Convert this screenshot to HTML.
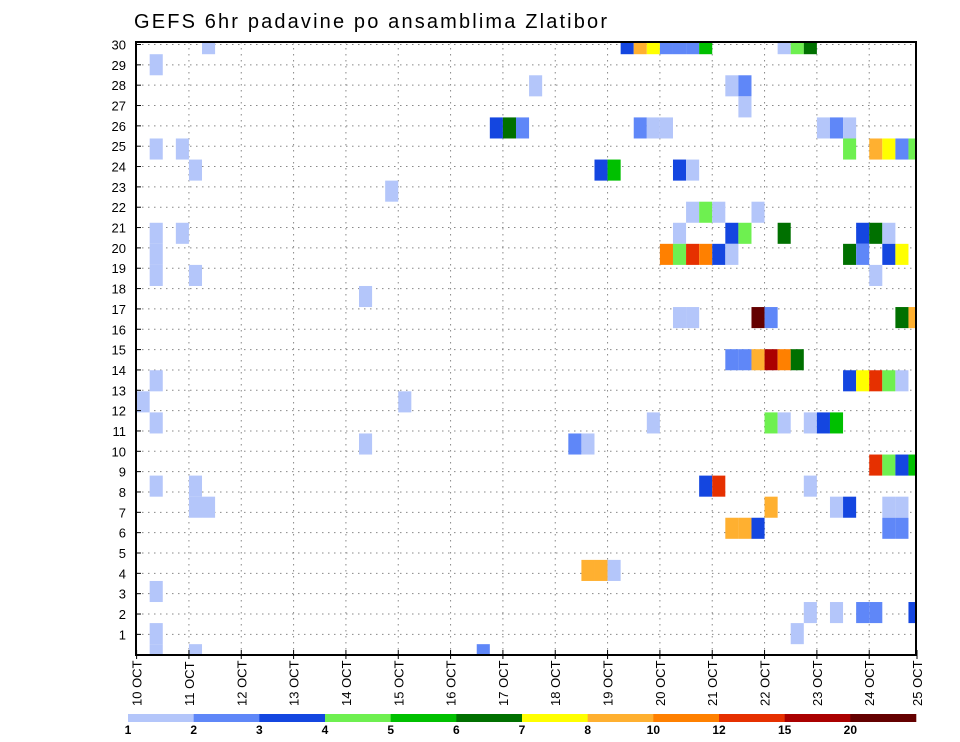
<!DOCTYPE html>
<html><head><meta charset="utf-8"><style>
html,body{margin:0;padding:0;background:#fff;}
svg{display:block;font-family:"Liberation Sans",sans-serif;}
</style></head><body>
<svg id="chart" width="960" height="742" viewBox="0 0 960 742" xmlns="http://www.w3.org/2000/svg">
<text x="134" y="28" font-size="20" textLength="473" fill="#000">GEFS 6hr padavine po ansamblima Zlatibor</text>
<g id="grid"></g>
<g id="cells"></g>
<rect x="136" y="42" width="780" height="613" fill="none" stroke="#000" stroke-width="2"/>
<g id="axes"></g>
<g id="legend"></g>
</svg>
<script>
const dayLabels = ["10 OCT","11 OCT","12 OCT","13 OCT","14 OCT","15 OCT","16 OCT","17 OCT","18 OCT","19 OCT","20 OCT","21 OCT","22 OCT","23 OCT","24 OCT","25 OCT"];
const yTickLabels = [1,2,3,4,5,6,7,8,9,10,11,12,13,14,15,16,17,18,19,20,21,22,23,24,25,26,27,28,29,30];
const levels = [1,2,3,4,5,6,7,8,10,12,15,20];
const levelColors = ["#b4c6fa","#5f87f8","#1446e0","#6ef050","#00c000","#007000","#ffff00","#ffb030","#ff8000","#e63000","#aa0000","#640000"];
const rowMember = [29,28,27,26,25,24,23,22,21,20,19,18,17,16,14,13,12,11,10,9,8,7,6,4,3,2,1,0];
const rowSteps = [
 [37,38,39,40,41,42,43,49,50,51,5],
 [1],
 [45,46,30],
 [46],
 [38,39,40,52,53,54,27,28,29],
 [54,56,57,58,59,1,3],
 [35,36,41,42,4],
 [19],
 [42,43,44,47],
 [41,45,46,49,55,56,57,1,3],
 [40,41,42,43,44,45,54,55,57,58,1],
 [56,1,4],
 [17],
 [41,42,47,48,58,59],
 [45,46,47,48,49,50],
 [54,55,56,57,58,1],
 [0,20],
 [39,48,49,51,52,53,1],
 [33,34,17],
 [56,57,58,59],
 [43,44,51,1,4],
 [48,53,54,57,58,4,5],
 [45,46,47,57,58],
 [34,35,36],
 [1],
 [51,53,55,56,59],
 [50,1],
 [1,4,26]
];
const rowValues = [
 [3.5,9,7.5,2.5,2.5,2.5,5.5,1.5,4.5,6.5,1.5],
 [1.5],
 [1.5,2.5,1.5],
 [1.5],
 [2.5,1.5,1.5,1.5,2.5,1.5,3.5,6.5,2.5],
 [4.5,9,7.5,2.5,4.5,1.5,1.5],
 [3.5,5.5,3.5,1.5,1.5],
 [1.5],
 [1.5,4.5,1.5,1.5],
 [1.5,3.5,4.5,6.5,3.5,6.5,1.5,1.5,1.5],
 [11,4.5,13.5,11,3.5,1.5,6.5,2.5,3.5,7.5,1.5],
 [1.5,1.5,1.5],
 [1.5],
 [1.5,1.5,25,2.5,6.5,9],
 [2.5,2.5,9,17.5,11,6.5],
 [3.5,7.5,13.5,4.5,1.5,1.5],
 [1.5,1.5],
 [1.5,4.5,1.5,1.5,3.5,5.5,1.5],
 [2.5,1.5,1.5],
 [13.5,4.5,3.5,5.5],
 [3.5,13.5,1.5,1.5,1.5],
 [9,1.5,3.5,1.5,1.5,1.5,1.5],
 [9,9,3.5,2.5,2.5],
 [9,9,1.5],
 [1.5],
 [1.5,1.5,2.5,2.5,3.5],
 [1.5,1.5],
 [1.5,1.5,2.5]
];

const NS="http://www.w3.org/2000/svg";
const PL=136, PR=916, PT=42, PB=655;
const X0=136.6, DAY_W=52.33, STEP_W=DAY_W/4;
const Y0=654.7, LABEL_H=20.34, CELL_H=21.07;
function xDay(d){return X0+d*DAY_W;}
function xStep(s){return X0+s*STEP_W;}
function yLabel(k){return Y0-k*LABEL_H;}
function yMember(m){return Y0-m*CELL_H;}
function colorFor(v){let c=null;for(let i=0;i<levels.length;i++){if(v>=levels[i])c=levelColors[i];}return c;}
function mk(tag,attrs,parent){const e=document.createElementNS(NS,tag);for(const k in attrs)e.setAttribute(k,attrs[k]);parent.appendChild(e);return e;}

const grid=document.getElementById('grid');
yTickLabels.forEach((lab,idx)=>{
  const y=yLabel(lab);
  if(y<=PT+1)return;
  const l=mk('line',{x1:PL,x2:PR,y1:y,y2:y,stroke:'#888','stroke-width':1,'stroke-dasharray':'1.5,4.5'},grid);
  
  
});
dayLabels.forEach((lab,d)=>{
  const x=xDay(d);
  if(d===0||x>=PR)return;
  const l=mk('line',{x1:x,x2:x,y1:PT,y2:PB,stroke:'#888','stroke-width':1,'stroke-dasharray':'1.5,4.5'},grid);
  
  
});

const cells=document.getElementById('cells');
rowMember.forEach((m,r)=>{
  rowSteps[r].forEach((s,j)=>{
    const v=rowValues[r][j];const col=colorFor(v);if(!col)return;
    let y1=yMember(m)-CELL_H/2, y2=yMember(m)+CELL_H/2;
    y1=Math.max(y1,PT);y2=Math.min(y2,PB);
    let x1=xStep(s), x2=Math.min(xStep(s+1),PR);
    if(y2<=y1||x2<=x1)return;
    const rc=mk('rect',{x:x1,y:y1,width:x2-x1,height:y2-y1,fill:col},cells);
    
    
  });
});

const axes=document.getElementById('axes');
yTickLabels.forEach(lab=>{
  const y=yLabel(lab);
  const t=mk('line',{x1:PL,x2:PL+5,y1:y,y2:y,stroke:'#000','stroke-width':1},axes);
  
  
  const tx=mk('text',{x:126,y:y+5,'font-size':13,'text-anchor':'end',fill:'#000'},axes);
  tx.textContent=lab;
  
  
});
dayLabels.forEach((lab,d)=>{
  const x=Math.min(xDay(d),PR+1);
  const t=mk('line',{x1:x,x2:x,y1:PB-5,y2:PB+4,stroke:'#000','stroke-width':1},axes);
  
  
  const tx=mk('text',{transform:'translate('+(x+5)+',706) rotate(-90)','font-size':13,fill:'#000'},axes);
  tx.textContent=lab;
  
  
});

const legend=document.getElementById('legend');
const LX0=128, LX1=916, segW=(LX1-LX0)/levelColors.length;
levelColors.forEach((c,i)=>{
  const r=mk('rect',{x:LX0+i*segW,y:714,width:segW+0.3,height:8,fill:c},legend);
  
  
});
levels.forEach((lv,i)=>{
  const t=mk('text',{x:LX0+i*segW,y:734,'font-size':12,'font-weight':'bold','text-anchor':'middle',fill:'#000'},legend);
  t.textContent=lv;
  
  
});
</script>
</body></html>
